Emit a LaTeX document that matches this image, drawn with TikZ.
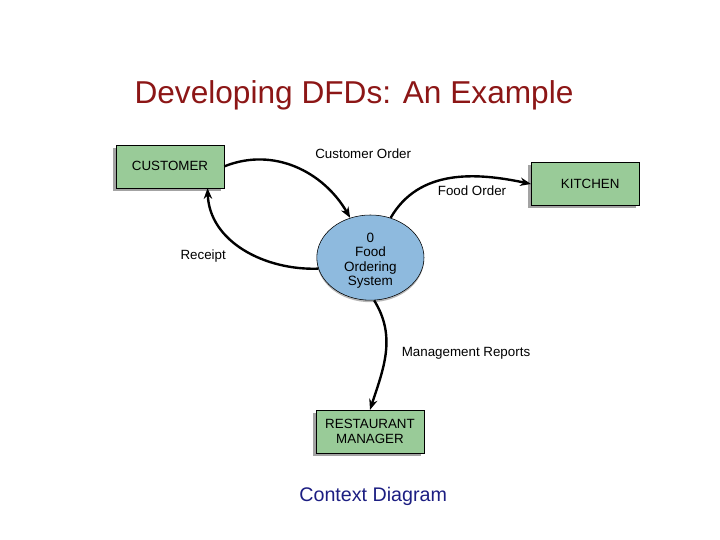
\documentclass[tikz,border=0pt]{standalone}
\usepackage{fontspec}
\setmainfont{Liberation Sans}
\usetikzlibrary{positioning,arrows.meta,shapes.geometric,shadows}
\definecolor{TitleRed}{RGB}{140,22,22}
\definecolor{CaptionBlue}{RGB}{28,30,130}
\definecolor{EntityGreen}{RGB}{153,203,152}
\definecolor{ProcessBlue}{RGB}{142,186,222}

\begin{document}
\begin{tikzpicture}[every node/.style={font=\fontsize{9.5}{11}\selectfont, align=center},
  entity/.style={draw, fill=EntityGreen, minimum width=2.7cm, minimum height=1.07cm,
    drop shadow={shadow xshift=-0.07cm, shadow yshift=-0.07cm, fill=black!45, opacity=0.8}},
  process/.style={draw, ellipse, fill=ProcessBlue, minimum width=2.68cm, minimum height=2.13cm,
    inner sep=0pt, drop shadow={shadow xshift=0cm, shadow yshift=-0.05cm, fill=black!40, opacity=0.7}},
  flow/.style={-{Stealth[length=2.7mm, width=2.1mm]}, line width=1.7pt}]
  \useasboundingbox (0,0) rectangle (18,13.5);
  \node[font=\fontsize{22.5}{26}\selectfont, text=TitleRed] (title) at (8.85,11.12) {Developing DFDs: An Example};

  \node[entity] (cust) at (4.25,9.34) {CUSTOMER};
  \node[entity] (kit) at (14.63,8.9) {\hspace*{0.25cm}KITCHEN};
  \node[process] (sys) at (9.26,7.06) {};
  \node[font=\fontsize{9.6}{10.3}\selectfont] (systext) at ([yshift=-0.08cm]sys.center) {0\\Food\\Ordering\\System};
  \node[entity, font=\fontsize{9.5}{10.8}\selectfont] (mgr) at (9.25,2.71) {RESTAURANT\\MANAGER};

  \draw[flow] (cust.east) to[out=22, in=120] (sys.117);
  \draw[flow] (sys.192) to[out=182, in=-88] (cust.-30);
  \draw[flow] (sys.63) to[out=60, in=168] (kit.west);
  \draw[flow] (sys.-85) to[out=-58, in=72] (mgr.north);

  \node (lco) at (9.08,9.65) {Customer Order};
  \node (lrc) at (5.08,7.1) {Receipt};
  \node (lfo) at (11.8,8.72) {Food Order};
  \node (lmr) at (11.65,4.68) {Management Reports};

  \node[font=\fontsize{14}{16}\selectfont, text=CaptionBlue] (cap) at (9.33,1.1) {Context Diagram};
\end{tikzpicture}
\end{document}
